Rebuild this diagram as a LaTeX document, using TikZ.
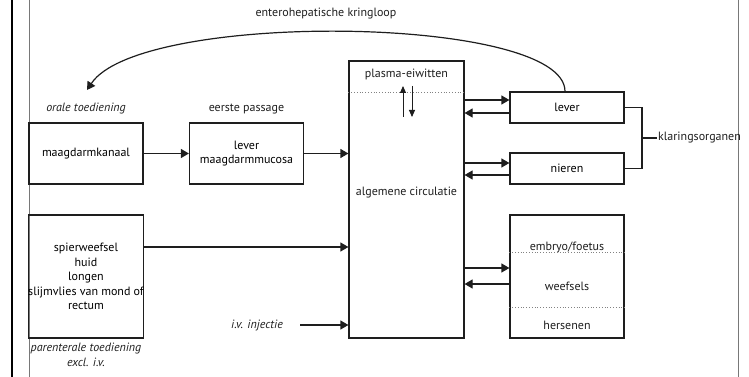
\documentclass[tikz,border=0pt]{standalone}
\usepackage{fontspec}
\setmainfont{PT Sans}
\usetikzlibrary{arrows.meta}

\begin{document}
\begin{tikzpicture}[x=1pt, y=-1pt,
		box/.style={draw=ALMOST_BLACK, line width=1.2pt, minimum width=114pt, inner sep=0pt},
		arr/.style={line width=1.2pt, color=ALMOST_BLACK, -{Triangle[length=8pt, width=9pt]}},
		small arr/.style={line width=0.9pt, color=ALMOST_BLACK, -{Triangle[length=7pt, width=6pt]}},
		sep/.style={dotted, line width=0.8pt, color=LIGHT_GRAY},
		lbl/.style={inner sep=1pt, align=center, text=ALMOST_BLACK}]
	\definecolor{ALMOST_BLACK}{RGB}{30, 30, 30}
	\definecolor{LIGHT_GRAY}{RGB}{130, 130, 130}
	\definecolor{FRAME_GRAY}{RGB}{120, 120, 120}
	\fontsize{12}{14.5}\selectfont
	\useasboundingbox (0,0) rectangle (749,377);

	% page edges
	\draw[line width=1.4pt, color=black] (12,0) -- (12,377);
	\draw[line width=1pt, color=FRAME_GRAY] (29,0) -- (29,377);
	\draw[line width=1pt, color=FRAME_GRAY] (738,0) -- (738,377);

	% boxes
	\node[box, minimum height=61pt] (maag) at (86,153.5) {maagdarmkanaal};
	\node[box, minimum height=61pt, align=center] (passage) at (246.5,153.5) {lever\\maagdarmmucosa};
	\node[box, minimum width=115pt, minimum height=277pt] (circ) at (406.5,199.5) {};
	\node[box, minimum height=31pt] (lever) at (567,107.5) {lever};
	\node[box, minimum height=31pt] (nieren) at (567,168.5) {nieren};
	\node[box, minimum height=123pt] (weef) at (567,276.5) {};
	\node[box, minimum height=123pt, align=center] (spier) at (86,276.5)
		{spierweefsel\\huid\\longen\\slijmvlies van mond of\\rectum};

	% labels
	\node[lbl] (kringloop) at (326,14) {enterohepatische kringloop};
	\node[lbl, font=\itshape] (orale) at (86,109) {orale toediening};
	\node[lbl] (eerste) at (246.5,109) {eerste passage};
	\node[lbl, font=\itshape] (parent) at (86,355) {parenterale toediening\\excl. i.v.};
	\node[lbl, font=\itshape] (iv) at (257,325) {i.v. injectie};
	\node[lbl] (plasma) at (406.5,74) {plasma-eiwitten};
	\node[lbl] (algemeen) at (406.5,193) {algemene circulatie};
	\node[lbl] (embryo) at (567,247) {embryo/foetus};
	\node[lbl] (weefsels) at (567,286) {weefsels};
	\node[lbl] (hersenen) at (567,325) {hersenen};
	\node[lbl, anchor=west] (klaring) at (657,138) {klaringsorganen};

	% dotted separators
	\draw[sep] (circ.west |- 0,92) -- (circ.east |- 0,92);
	\draw[sep] (weef.west |- 0,252) -- (weef.east |- 0,252);
	\draw[sep] (weef.west |- 0,307) -- (weef.east |- 0,307);

	% binding to plasma proteins
	\coordinate (up) at (403,117);
	\coordinate (down) at (412,86);
	\draw[small arr] (up) -- (403,86);
	\draw[small arr] (down) -- (412,117);

	% absorption
	\draw[arr] (maag) -- (passage);
	\draw[arr] (passage) -- (passage -| circ.west);
	\draw[arr] ([yshift=29.5pt]spier.east) -- ([yshift=29.5pt]spier.east -| circ.west);
	\draw[arr] ([xshift=16pt]iv.east) -- (iv -| circ.west);

	% exchange with organs
	\draw[arr] ([yshift=7.5pt]lever.west -| circ.east) -- ([yshift=7.5pt]lever.west);
	\draw[arr] ([yshift=-5.5pt]lever.west) -- ([yshift=-5.5pt]lever.west -| circ.east);
	\draw[arr] ([yshift=5.5pt]nieren.west -| circ.east) -- ([yshift=5.5pt]nieren.west);
	\draw[arr] ([yshift=-6.5pt]nieren.west) -- ([yshift=-6.5pt]nieren.west -| circ.east);
	\draw[arr] ([yshift=8.5pt]weef.west -| circ.east) -- ([yshift=8.5pt]weef.west);
	\draw[arr] ([yshift=-7.5pt]weef.west) -- ([yshift=-7.5pt]weef.west -| circ.east);

	% clearing organs bracket
	\coordinate (brk) at (642,138);
	\draw[line width=1.2pt, color=ALMOST_BLACK] (lever.east) -| (brk) |- (nieren.east);
	\draw[line width=1.2pt, color=ALMOST_BLACK] (brk) -- (klaring.west);

	% enterohepatic cycle
	\coordinate (kring) at (87,90);
	\draw[arr] ([xshift=-2pt]lever.north) .. controls (565,15) and (140,10) .. (kring);
\end{tikzpicture}
\end{document}
